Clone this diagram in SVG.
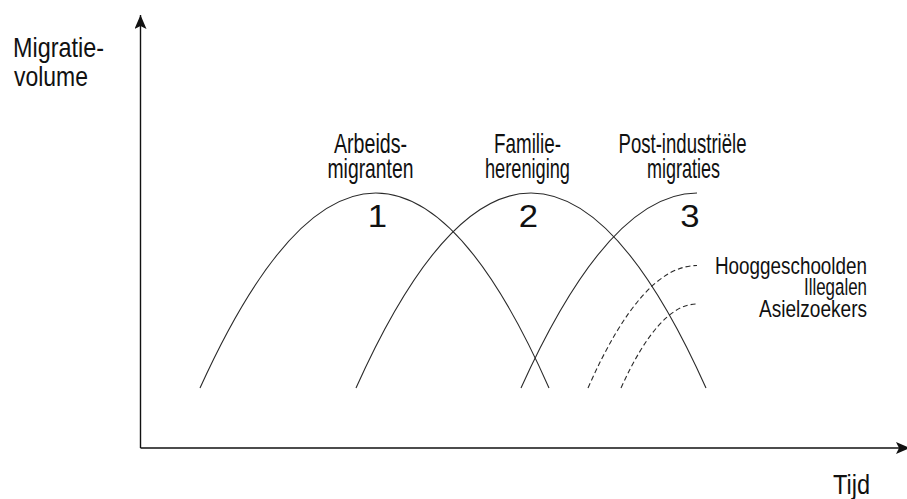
<svg xmlns="http://www.w3.org/2000/svg" width="907" height="499" viewBox="0 0 907 499">
  <defs>
    <style>
      .lbl { font-family: "Liberation Sans Narrow", "Liberation Sans", Arial, sans-serif; font-size: 28px; fill: #111; }
      .sub { font-size: 24.5px; }
      .num { font-family: "Liberation Sans", Arial, sans-serif; font-size: 31px; fill: #111; }
      .axis { fill: none; stroke: #111; stroke-width: 1.4; }
      .wave { fill: none; stroke: #2a2a2a; stroke-width: 1.1; }
      .dash { fill: none; stroke: #2a2a2a; stroke-width: 1.1; stroke-dasharray: 5 3; }
    </style>
    <marker id="arrow" viewBox="0 0 14 12" refX="14" refY="6" markerWidth="14" markerHeight="12" markerUnits="userSpaceOnUse" orient="auto">
      <path d="M0,0 L14,6 L0,12 L3,6 Z" fill="#111"/>
    </marker>
  </defs>

  <rect width="907" height="499" fill="#fff"/>

  <!-- axes -->
  <g id="axes">
    <line class="axis" x1="140.5" y1="448" x2="140.5" y2="15" marker-end="url(#arrow)"/>
    <line class="axis" x1="140.5" y1="448" x2="910" y2="448" marker-end="url(#arrow)"/>
  </g>

  <!-- migration waves -->
  <g id="waves">
    <path id="wave1" class="wave" d="M200,388 Q377,-2 549,388"/>
    <path id="wave2" class="wave" d="M356,388 Q531,-2 706,388"/>
    <path id="wave3" class="wave" d="M521,388 Q609,193 697,193"/>
    <path id="wave3a" class="dash" d="M588,388 Q642,265.5 697,265.5"/>
    <path id="wave3b" class="dash" d="M621,388 Q659,304 697,304"/>
  </g>

  <!-- axis titles -->
  <g id="y-title">
    <text class="lbl" x="13" y="57" textLength="91" lengthAdjust="spacingAndGlyphs">Migratie-</text>
    <text class="lbl" x="14" y="86" textLength="74" lengthAdjust="spacingAndGlyphs">volume</text>
  </g>
  <g id="x-title">
    <text class="lbl" x="833" y="494" textLength="37" lengthAdjust="spacingAndGlyphs">Tijd</text>
  </g>

  <!-- wave labels -->
  <g id="label1" text-anchor="middle">
    <text class="lbl" x="370.5" y="153" textLength="73" lengthAdjust="spacingAndGlyphs">Arbeids-</text>
    <text class="lbl" x="370.5" y="178" textLength="86" lengthAdjust="spacingAndGlyphs">migranten</text>
    <text class="num" transform="translate(377.5,227) scale(1.12,1)">1</text>
  </g>
  <g id="label2" text-anchor="middle">
    <text class="lbl" x="527.5" y="153" textLength="67" lengthAdjust="spacingAndGlyphs">Familie-</text>
    <text class="lbl" x="527.5" y="178" textLength="85" lengthAdjust="spacingAndGlyphs">hereniging</text>
    <text class="num" transform="translate(528.5,227) scale(1.12,1)">2</text>
  </g>
  <g id="label3" text-anchor="middle">
    <text class="lbl" x="682.5" y="153" textLength="128" lengthAdjust="spacingAndGlyphs">Post-industriële</text>
    <text class="lbl" x="683.5" y="178" textLength="73" lengthAdjust="spacingAndGlyphs">migraties</text>
    <text class="num" transform="translate(690,227) scale(1.12,1)">3</text>
  </g>
  <g id="label3-sub" text-anchor="end">
    <text class="lbl sub" x="867" y="274" textLength="152" lengthAdjust="spacingAndGlyphs">Hooggeschoolden</text>
    <text class="lbl sub" x="867" y="295" textLength="63" lengthAdjust="spacingAndGlyphs">Illegalen</text>
    <text class="lbl sub" x="867" y="317" textLength="108" lengthAdjust="spacingAndGlyphs">Asielzoekers</text>
  </g>
</svg>
